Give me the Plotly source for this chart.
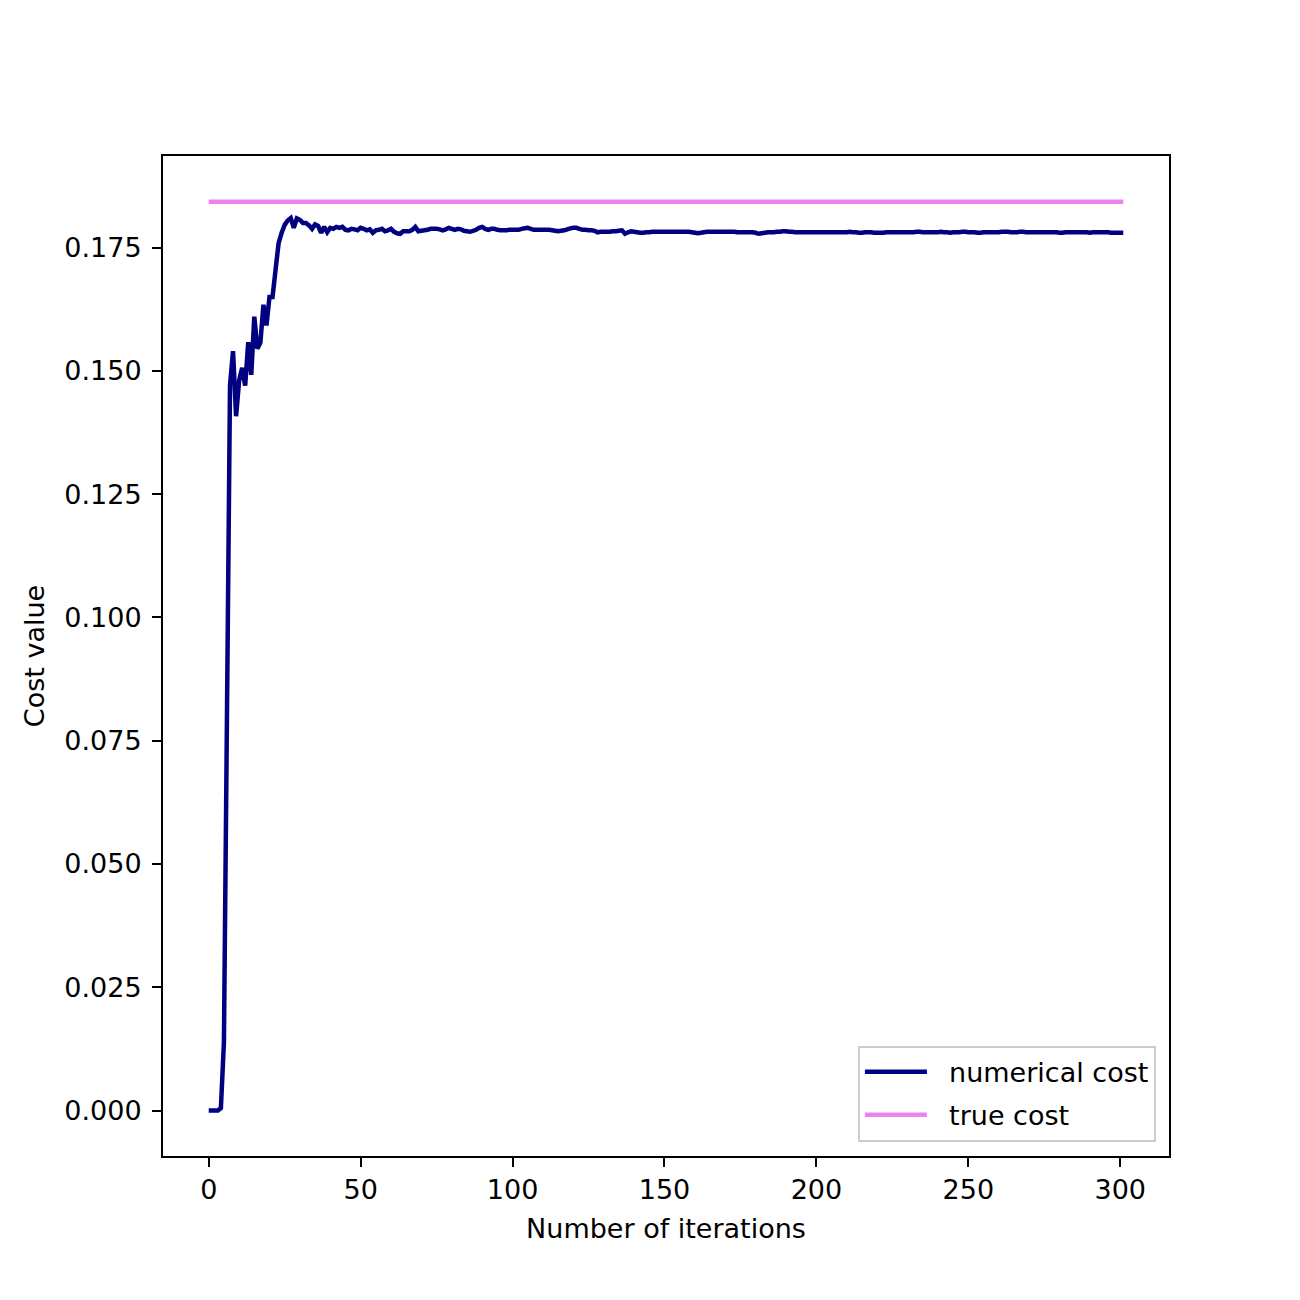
import plotly.graph_objects as go

iterations = list(range(302))
numerical_cost = [
    0.0, 0.0, 0.0, 0.0, 0.0005, 0.0138, 0.080, 0.147, 0.154, 0.1408,
    0.1480, 0.1506, 0.1470, 0.1558, 0.1492, 0.1610, 0.1545, 0.1557, 0.1634, 0.1592,
    0.1650, 0.1650, 0.1705, 0.1759, 0.1780, 0.1796, 0.1805, 0.1810, 0.1790, 0.1809,
    0.1806, 0.1800, 0.1800, 0.1795, 0.1788, 0.1797, 0.1794, 0.1780, 0.1792, 0.1781,
    0.1790, 0.1788, 0.1792, 0.1790, 0.1792, 0.1786, 0.1785, 0.1788, 0.1787, 0.1785,
    0.1790, 0.1788, 0.1785, 0.1787, 0.1780, 0.1785, 0.1786, 0.1788, 0.1783, 0.1785,
    0.1788, 0.1782, 0.1779, 0.1778, 0.1783, 0.1783, 0.1783, 0.1786, 0.1792, 0.1783,
    0.1784, 0.1785, 0.1786, 0.1788, 0.1788, 0.1788, 0.1787, 0.1785, 0.1787, 0.1790,
    0.1788, 0.1786, 0.1788, 0.1787, 0.1784, 0.1783, 0.1782, 0.1784, 0.1786, 0.1790,
    0.1792, 0.1788, 0.1786, 0.1788, 0.1788, 0.1786, 0.1785, 0.1785, 0.1785, 0.1786,
    0.1786, 0.1786, 0.1786, 0.1788, 0.1789, 0.1790, 0.1788, 0.1786, 0.1786, 0.1786,
    0.1786, 0.1786, 0.1786, 0.1785, 0.1784, 0.1783, 0.1784, 0.1785, 0.1787, 0.1789,
    0.1790, 0.1790, 0.1788, 0.1786, 0.1786, 0.1785, 0.1785, 0.1784, 0.1781, 0.1782,
    0.1782, 0.1782, 0.1782, 0.1783, 0.1783, 0.1784, 0.1785, 0.1778, 0.1781, 0.1783,
    0.1782, 0.1781, 0.1780, 0.1780, 0.1781, 0.1781, 0.1782, 0.1782, 0.1782, 0.1782,
    0.1782, 0.1782, 0.1782, 0.1782, 0.1782, 0.1782, 0.1782, 0.1782, 0.1782, 0.1781,
    0.1780, 0.1779, 0.1780, 0.1781, 0.1782, 0.1782, 0.1782, 0.1782, 0.1782, 0.1782,
    0.1782, 0.1782, 0.1782, 0.1782, 0.1781, 0.1781, 0.1781, 0.1781, 0.1781, 0.1781,
    0.1780, 0.1778, 0.1779, 0.1780, 0.1781, 0.1781, 0.1781, 0.1782, 0.1782, 0.1783,
    0.1783, 0.1782, 0.1782, 0.1781, 0.1781, 0.1781, 0.1781, 0.1781, 0.1781, 0.1781,
    0.1781, 0.1781, 0.1781, 0.1781, 0.1781, 0.1781, 0.1781, 0.1781, 0.1781, 0.1781,
    0.1781, 0.1782, 0.1781, 0.1781, 0.1780, 0.1780, 0.1781, 0.1781, 0.1781, 0.1780,
    0.1780, 0.1780, 0.1780, 0.1781, 0.1781, 0.1781, 0.1781, 0.1781, 0.1781, 0.1781,
    0.1781, 0.1781, 0.1781, 0.1782, 0.1782, 0.1781, 0.1781, 0.1781, 0.1781, 0.1781,
    0.1781, 0.1782, 0.1781, 0.1781, 0.1780, 0.1781, 0.1781, 0.1781, 0.1782, 0.1782,
    0.1781, 0.1781, 0.1781, 0.1780, 0.1780, 0.1781, 0.1781, 0.1781, 0.1781, 0.1781,
    0.1781, 0.1782, 0.1782, 0.1782, 0.1781, 0.1781, 0.1781, 0.1782, 0.1782, 0.1781,
    0.1781, 0.1781, 0.1781, 0.1781, 0.1781, 0.1781, 0.1781, 0.1781, 0.1781, 0.1781,
    0.1780, 0.1780, 0.1781, 0.1781, 0.1781, 0.1781, 0.1781, 0.1781, 0.1781, 0.1781,
    0.1780, 0.1781, 0.1781, 0.1781, 0.1781, 0.1781, 0.1781, 0.1780, 0.1780, 0.1780,
    0.1780, 0.1780,
]
true_cost_value = 0.1843
true_cost = [true_cost_value] * len(iterations)

x_ticks = [0, 50, 100, 150, 200, 250, 300]
y_ticks = [0.000, 0.025, 0.050, 0.075, 0.100, 0.125, 0.150, 0.175]
series_names = ["numerical cost", "true cost"]

FONT = "DejaVu Sans"
FS = 27
PAD = "\u00a0\u00a0"

fig = go.Figure()
fig.add_trace(go.Scatter(
    x=iterations, y=numerical_cost, mode="lines", name=PAD + series_names[0],
    legendgroup="a",
    line=dict(color="#000080", width=4.5, simplify=False),
))
fig.add_trace(go.Scatter(
    x=iterations, y=true_cost, mode="lines", name=PAD + series_names[1],
    legendgroup="b",
    line=dict(color="#EE82EE", width=4.5, simplify=False),
))

axis_common = dict(
    showline=True, mirror=True, linecolor="black", linewidth=2,
    ticks="outside", ticklen=9, tickwidth=1.7, tickcolor="black",
    showgrid=False, zeroline=False,
    tickfont=dict(family=FONT, size=FS, color="black"),
)

fig.update_layout(
    width=1300, height=1300,
    paper_bgcolor="white", plot_bgcolor="white",
    margin=dict(l=155, r=139, t=148, b=152),
    font=dict(family=FONT, size=FS, color="black"),
    xaxis=dict(
        range=[-15.05, 316.05], tickvals=x_ticks,
        ticktext=[str(v) for v in x_ticks],
        title=dict(text="Number of iterations", font=dict(family=FONT, size=FS), standoff=15),
        **axis_common,
    ),
    yaxis=dict(
        range=[-0.00922, 0.19357], tickvals=y_ticks,
        ticktext=[f"{v:.3f}" for v in y_ticks],
        ticklabelstandoff=5,
        title=dict(text="Cost value", font=dict(family=FONT, size=FS), standoff=12),
        **axis_common,
    ),
    legend=dict(
        x=0.987, y=0.0143, xanchor="right", yanchor="bottom",
        bgcolor="rgba(255,255,255,0.8)", bordercolor="#cccccc", borderwidth=2,
        font=dict(family=FONT, size=FS, color="black"),
        itemwidth=62,
        tracegroupgap=5,
    ),
    showlegend=True,
)

fig.write_html("out.html")
